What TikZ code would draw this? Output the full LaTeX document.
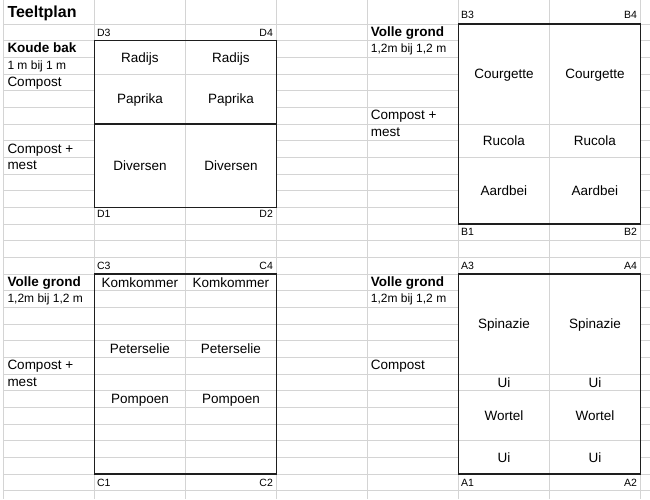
\documentclass[tikz,border=0pt]{standalone}
\usepackage{fontspec}
\setmainfont{Liberation Sans}
\definecolor{gridc}{RGB}{212,212,212}
\definecolor{boxc}{RGB}{30,30,30}
\newcommand\mergecell[3]{%
  \fill[white] ({3.4+91*#1+0.7},{24+16.6667*#2+0.7}) rectangle ({3.4+91*(#1+1)-0.7},{24+16.6667*(#3+1)-0.7});}
\begin{document}
\begin{tikzpicture}[x=1pt,y=-1pt,
  gridline/.style={draw=gridc,line width=0.8pt},
  boxline/.style={draw=boxc,line width=1.2pt},
  txt/.style={inner sep=0pt,text height=9.67pt,text depth=0pt,font=\fontsize{13.5}{16}\selectfont},
  btxt/.style={txt,font=\fontsize{13.5}{16}\selectfont\bfseries},
  stxt/.style={inner sep=0pt,text height=8.6pt,text depth=0pt,font=\fontsize{12}{14}\selectfont},
  ctxt/.style={inner sep=0pt,text height=7.5pt,text depth=0pt,font=\fontsize{10.5}{12}\selectfont},
  ttxt/.style={inner sep=0pt,text height=11.5pt,text depth=0pt,font=\fontsize{16}{19}\selectfont\bfseries},
  lft/.style={anchor=west},
]
\useasboundingbox (0,0) rectangle (650,499);
\fill[white] (0,0) rectangle (650,499);
% grid
\foreach \k in {0,...,28} \draw[gridline] (3.4,{24+16.6667*\k}) -- (650,{24+16.6667*\k});
\foreach \j in {0,...,7} \draw[gridline] ({3.4+91*\j},0) -- ({3.4+91*\j},499);
% merged cells
\foreach \c in {1,2} {\mergecell{\c}{1}{2}\mergecell{\c}{3}{5}\mergecell{\c}{6}{10}}
\foreach \c in {5,6} {\mergecell{\c}{0}{5}\mergecell{\c}{6}{7}\mergecell{\c}{8}{11}}
\foreach \c in {5,6} {\mergecell{\c}{15}{20}\mergecell{\c}{21}{21}\mergecell{\c}{22}{24}\mergecell{\c}{25}{26}}
% boxes
\draw[boxline] (94.4,40.67) rectangle (276.4,207.33);
\draw[boxline] (94.4,124) -- (276.4,124);
\draw[boxline] (458.4,24) rectangle (640.4,224);
\draw[boxline] (94.4,274) rectangle (276.4,474);
\draw[boxline] (458.4,274) rectangle (640.4,474);
% left column texts
\node[ttxt,lft] (title) at (7.3,11.7) {Teeltplan};
\node[btxt,lft] (kb) at (7.3,48) {Koude bak};
\node[stxt,lft] (kbs) at (7.3,64.8) {1 m bij 1 m};
\node[txt,lft] (kbc) at (7.3,81.5) {Compost};
\node[txt,lft] (kbc2) at (7.3,148.2) {Compost +};
\node[txt,lft] (kbm) at (7.3,164.8) {mest};
\node[btxt,lft] (cg) at (7.3,281.5) {Volle grond};
\node[stxt,lft] (cgs) at (7.3,298.2) {1,2m bij 1,2 m};
\node[txt,lft] (cgc) at (7.3,364.8) {Compost +};
\node[txt,lft] (cgm) at (7.3,381.5) {mest};
% right column texts
\node[btxt,lft] (bg) at (370.7,31.5) {Volle grond};
\node[stxt,lft] (bgs) at (370.7,48.2) {1,2m bij 1,2 m};
\node[txt,lft] (bgc) at (370.7,114.8) {Compost +};
\node[txt,lft] (bgm) at (370.7,131.5) {mest};
\node[btxt,lft] (ag) at (370.7,281.5) {Volle grond};
\node[stxt,lft] (ags) at (370.7,298.2) {1,2m bij 1,2 m};
\node[txt,lft] (agc) at (370.7,364.8) {Compost};
% corner labels
\node[ctxt,anchor=west] (d3) at (96.9,32.7) {D3};
\node[ctxt,anchor=east] (d4) at (273.1,32.7) {D4};
\node[ctxt,anchor=west] (d1) at (96.9,214) {D1};
\node[ctxt,anchor=east] (d2) at (273.1,214) {D2};
\node[ctxt,anchor=west] (b3) at (460.9,15) {B3};
\node[ctxt,anchor=east] (b4) at (637.1,15) {B4};
\node[ctxt,anchor=west] (b1) at (460.9,231.7) {B1};
\node[ctxt,anchor=east] (b2) at (637.1,231.7) {B2};
\node[ctxt,anchor=west] (c3) at (96.9,265.7) {C3};
\node[ctxt,anchor=east] (c4) at (273.1,265.7) {C4};
\node[ctxt,anchor=west] (c1) at (96.9,482.3) {C1};
\node[ctxt,anchor=east] (c2) at (273.1,482.3) {C2};
\node[ctxt,anchor=west] (a3) at (460.9,265.7) {A3};
\node[ctxt,anchor=east] (a4) at (637.1,265.7) {A4};
\node[ctxt,anchor=west] (a1) at (460.9,483) {A1};
\node[ctxt,anchor=east] (a2) at (637.1,483) {A2};
% box D plants
\node[txt] (dr1) at (139.9,57.3) {Radijs};
\node[txt] (dr2) at (230.9,57.3) {Radijs};
\node[txt] (dp1) at (139.9,99) {Paprika};
\node[txt] (dp2) at (230.9,99) {Paprika};
\node[txt] (dd1) at (139.9,165.7) {Diversen};
\node[txt] (dd2) at (230.9,165.7) {Diversen};
% box B plants
\node[txt] (bc1) at (503.9,74) {Courgette};
\node[txt] (bc2) at (594.9,74) {Courgette};
\node[txt] (br1) at (503.9,140.7) {Rucola};
\node[txt] (br2) at (594.9,140.7) {Rucola};
\node[txt] (ba1) at (503.9,190.7) {Aardbei};
\node[txt] (ba2) at (594.9,190.7) {Aardbei};
% box C plants
\node[txt] (ck1) at (139.9,282.3) {Komkommer};
\node[txt] (ck2) at (230.9,282.3) {Komkommer};
\node[txt] (cp1) at (139.9,349) {Peterselie};
\node[txt] (cp2) at (230.9,349) {Peterselie};
\node[txt] (cq1) at (139.9,399) {Pompoen};
\node[txt] (cq2) at (230.9,399) {Pompoen};
% box A plants
\node[txt] (as1) at (503.9,324) {Spinazie};
\node[txt] (as2) at (594.9,324) {Spinazie};
\node[txt] (au1) at (503.9,382.3) {Ui};
\node[txt] (au2) at (594.9,382.3) {Ui};
\node[txt] (aw1) at (503.9,415.7) {Wortel};
\node[txt] (aw2) at (594.9,415.7) {Wortel};
\node[txt] (av1) at (503.9,457.3) {Ui};
\node[txt] (av2) at (594.9,457.3) {Ui};
\end{tikzpicture}
\end{document}
